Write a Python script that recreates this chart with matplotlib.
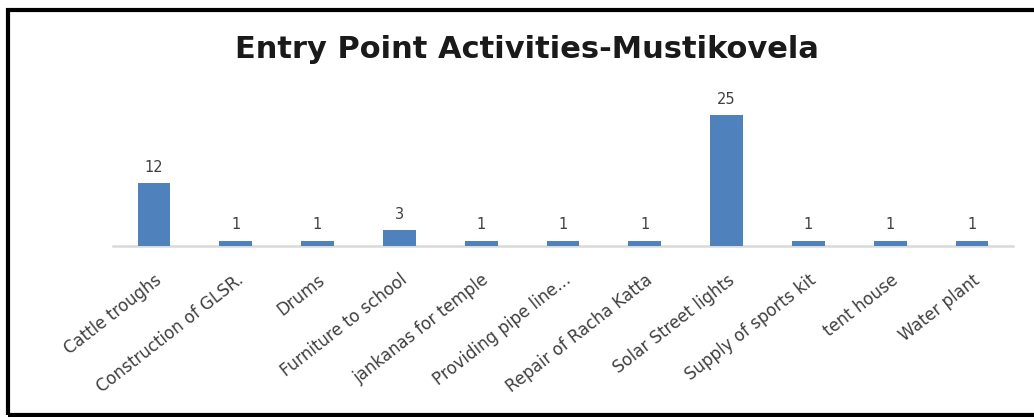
import matplotlib
matplotlib.use("Agg")
import matplotlib.pyplot as plt
from matplotlib.patches import Rectangle
from matplotlib.transforms import ScaledTranslation

# chart data
activities = [
    "Cattle troughs",
    "Construction of GLSR.",
    "Drums",
    "Furniture to school",
    "jankanas for temple",
    "Providing pipe line...",
    "Repair of Racha Katta",
    "Solar Street lights",
    "Supply of sports kit",
    "tent house",
    "Water plant",
]
counts = [12, 1, 1, 3, 1, 1, 1, 25, 1, 1, 1]

bar_color = "#4F81BD"
text_grey = "#404040"

fig = plt.figure(figsize=(10.34, 4.17), dpi=100)
fig.patch.set_facecolor("white")

# plot area placed to match the reference
ax = fig.add_axes([113 / 1034, (417 - 246) / 417, 900 / 1034, 157 / 417])

x = list(range(len(activities)))
ax.bar(x, counts, width=0.4, color=bar_color, zorder=3)

for xi, v in zip(x, counts):
    ax.text(xi, v + 1.6, str(v), ha="center", va="bottom",
            fontsize=10.5, color=text_grey, family="DejaVu Sans")

ax.set_xlim(-0.5, len(activities) - 0.5)
ax.set_ylim(0, 30)
ax.set_yticks([])
ax.set_xticks(x)
ax.set_xticklabels([])
ax.tick_params(axis="x", length=0)

# category labels, slanted like the Excel original
label_shift = ScaledTranslation(0 / 100, -25 / 100, fig.dpi_scale_trans)
for xi, name in zip(x, activities):
    ax.text(xi, 0, name, transform=ax.get_xaxis_transform() + label_shift,
            rotation=38, rotation_mode="anchor", ha="right", va="top",
            fontsize=12, color=text_grey, family="DejaVu Sans")

for side in ["top", "right", "left"]:
    ax.spines[side].set_visible(False)
ax.spines["bottom"].set_color("#d9d9d9")
ax.spines["bottom"].set_linewidth(1.8)
ax.set_facecolor("none")

fig.text(527 / 1034, 1 - 58 / 417, "Entry Point Activities-Mustikovela",
         ha="center", va="baseline", fontsize=22, fontweight="bold",
         family="DejaVu Sans", color="#1a1a1a")

# outer frame of the chart box
frame = Rectangle((8 / 1034, 2 / 417), 1.2, 405 / 417, transform=fig.transFigure,
                  fill=False, edgecolor="black", linewidth=3.0, zorder=10)
fig.patches.append(frame)

fig.savefig("out.png", dpi=100)
